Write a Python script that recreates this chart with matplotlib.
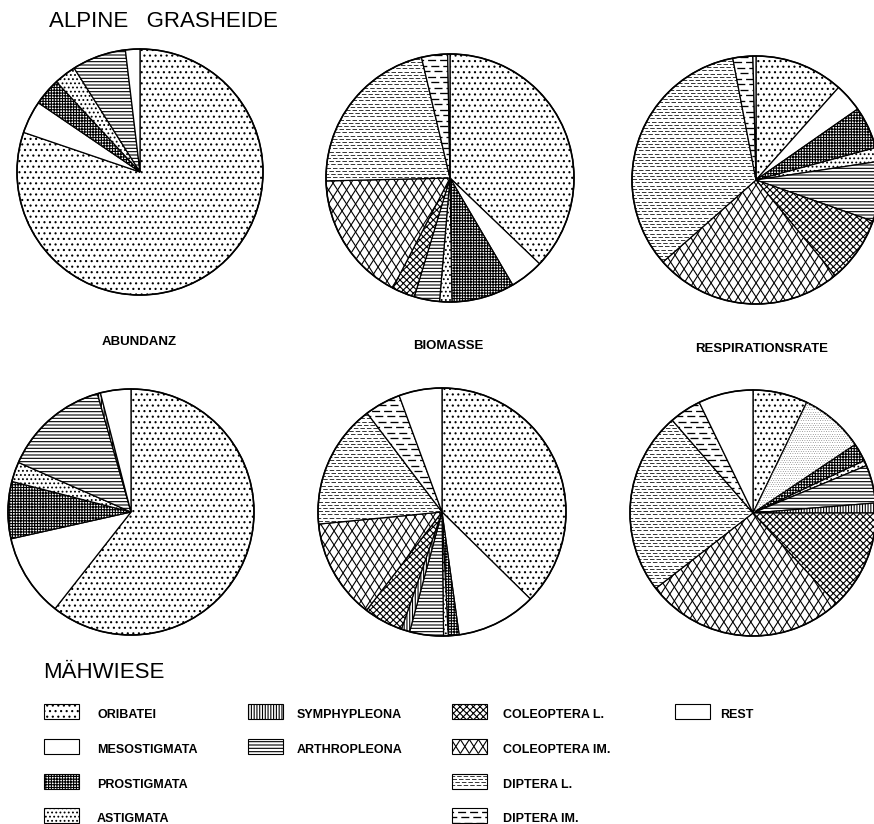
import numpy as np
import matplotlib
matplotlib.use("Agg")
from matplotlib import pyplot as plt
from matplotlib.collections import LineCollection
from matplotlib.patches import Rectangle, Circle

plt.rcParams['lines.scale_dashes'] = False
plt.rcParams['hatch.linewidth'] = 0.8

W, H = 874, 824

# groups in the order the slices run clockwise from 12 o'clock
groups = ['ORIBATEI', 'MESOSTIGMATA', 'PROSTIGMATA', 'ASTIGMATA', 'ARTHROPLEONA',
          'SYMPHYPLEONA', 'COLEOPTERA L.', 'COLEOPTERA IM.', 'DIPTERA L.',
          'DIPTERA IM.', 'REST']

# shares in percent
alpine_abundanz = [80.3, 4.3, 3.6, 2.9, 7.1, 0, 0, 0, 0, 0, 1.9]
alpine_biomasse = [37.2, 4.4, 8.2, 1.6, 3.3, 0, 3.0, 17.0, 21.7, 3.4, 0.3]
alpine_respiration = [11.6, 3.7, 5.5, 1.8, 7.8, 0, 8.6, 24.5, 33.5, 2.6, 0.4]
wiese_abundanz = [60.6, 10.9, 7.5, 2.6, 14.0, 0.4, 0, 0, 0, 0, 4.0]
wiese_biomasse = [37.3, 10.4, 1.4, 0.6, 4.4, 1.1, 5.1, 13.0, 16.2, 4.7, 5.6]
wiese_respiration = [7.2, 8.4, 2.4, 0.7, 5.0, 1.3, 13.2, 26.3, 24.1, 4.2, 7.2]

pie_labels = ['ABUNDANZ', 'BIOMASSE', 'RESPIRATIONSRATE']

legend_columns = [
    ['ORIBATEI', 'MESOSTIGMATA', 'PROSTIGMATA', 'ASTIGMATA'],
    ['SYMPHYPLEONA', 'ARTHROPLEONA'],
    ['COLEOPTERA L.', 'COLEOPTERA IM.', 'DIPTERA L.', 'DIPTERA IM.'],
    ['REST'],
]

# fill pattern of every group (hatch string or custom line pattern)
patterns = {
    'ORIBATEI': '...',
    'MESOSTIGMATA': '',
    'PROSTIGMATA': '++++++',
    'ASTIGMATA': '....',
    'ARTHROPLEONA': '-----',
    'SYMPHYPLEONA': '||||||',
    'COLEOPTERA L.': 'xxxxx',
    'COLEOPTERA IM.': 'diamonds',
    'DIPTERA L.': 'dashes_fine',
    'DIPTERA IM.': 'dashes_coarse',
    'REST': '',
}
custom = ('diamonds', 'dashes_fine', 'dashes_coarse', 'stipple')

# pixel layout: centre x, centre y (from top), radius
pie_layout = [
    (alpine_abundanz, 140, 172, 123),
    (alpine_biomasse, 450, 178, 124),
    (alpine_respiration, 756, 180, 124),
    (wiese_abundanz, 131, 512, 123),
    (wiese_biomasse, 442, 512, 124),
    (wiese_respiration, 753, 513, 123),
]
# the faint stippled mesostigmata slice in the last pie
overrides = {(5, 'MESOSTIGMATA'): 'stipple'}


def pattern_lines(ax, clip, kind, x0, x1, y0, y1):
    segs, styles = [], []
    px = 0.72  # pixel -> point at 100 dpi
    if kind == 'diamonds':
        w, h = 9.0, 14.0
        span = (y1 - y0) * w / h
        for xs in np.arange(x0 - span, x1 + span + w, w):
            segs.append([(xs, y0), (xs + span, y1)])
            segs.append([(xs, y0), (xs - span, y1)])
        lw, color = 0.8, 'black'
        styles = 'solid'
    elif kind == 'stipple':
        for i, y in enumerate(np.arange(y0, y1, 2.2)):
            segs.append([(x0, y), (x1, y)])
            styles.append(((i % 2) * 1.2 * px, (0.8 * px, 1.6 * px)))
        lw, color = 0.7, '0.55'
    else:
        if kind == 'dashes_fine':
            gap, on, off, lw = 3.2, 4.5, 2.0, 0.55
        else:
            gap, on, off, lw = 5.5, 8.0, 4.0, 0.95
        for i, y in enumerate(np.arange(y0, y1, gap)):
            segs.append([(x0, y), (x1, y)])
            styles.append(((i % 3) * on * 0.4 * px, (on * px, off * px)))
        color = 'black'
    lc = LineCollection(segs, colors=color, linewidths=lw, linestyles=styles)
    ax.add_collection(lc)
    lc.set_clip_path(clip)


fig = plt.figure(figsize=(W / 100, H / 100), dpi=100)
ax = fig.add_axes([0, 0, 1, 1])

for k, (values, cx, cy, r) in enumerate(pie_layout):
    names = [g for g, v in zip(groups, values) if v > 0]
    sizes = [v for v in values if v > 0]
    kinds = [overrides.get((k, g), patterns[g]) for g in names]
    hatches = ['' if kd in custom else kd for kd in kinds]
    wedges, _ = ax.pie(sizes, center=(cx, H - cy), radius=r, startangle=90,
                       counterclock=False, colors=['white'] * len(sizes),
                       hatch=hatches,
                       wedgeprops=dict(edgecolor='black', linewidth=0.9))
    for wdg, kd in zip(wedges, kinds):
        if kd in custom:
            pattern_lines(ax, wdg, kd, cx - r, cx + r, H - cy - r, H - cy + r)
    ax.add_patch(Circle((cx, H - cy), r, fill=False, edgecolor='black', linewidth=1.2))

ax.set_xlim(0, W)
ax.set_ylim(0, H)
ax.set_aspect('auto')
ax.axis('off')

ax.text(49, H - 21, 'ALPINE   GRASHEIDE', fontsize=16, family='Liberation Sans',
        ha='left', va='center')
ax.text(43, H - 672, 'MÄHWIESE', fontsize=16, family='Liberation Sans',
        ha='left', va='center')

for lab, (x, y) in zip(pie_labels, [(139, 342), (448, 346), (762, 349)]):
    ax.text(x, H - y, lab, fontsize=9.5, fontweight='bold', family='Liberation Sans',
            ha='center', va='center')

col_x = [(44, 97), (248, 297), (452, 503), (675, 720)]
row_y = [715, 750, 785, 819]
for (sx, tx), col in zip(col_x, legend_columns):
    for name, ty in zip(col, row_y):
        sy = H - (ty - 4)
        kd = patterns[name]
        rect = Rectangle((sx, sy - 7.5), 35, 15, facecolor='white', edgecolor='black',
                         linewidth=0.8, hatch='' if kd in custom else kd)
        ax.add_patch(rect)
        if kd in custom:
            pattern_lines(ax, rect, kd, sx, sx + 35, sy - 7.5, sy + 7.5)
        ax.text(tx, H - ty, name, fontsize=9, fontweight='bold',
                family='Liberation Sans', ha='left', va='center')

fig.savefig('out.png', dpi=100)
